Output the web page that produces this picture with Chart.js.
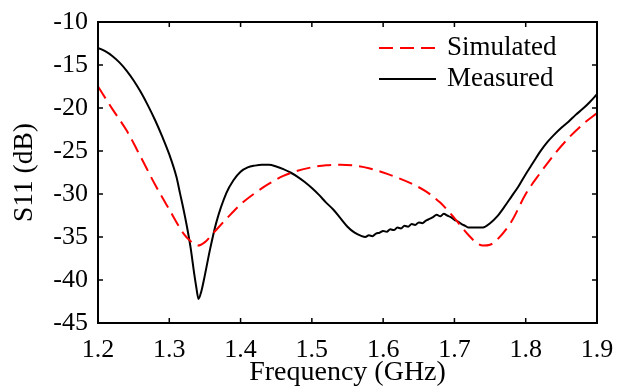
<!DOCTYPE html>
<html>
<head>
<meta charset="utf-8">
<title>S11</title>
<script src="https://cdn.jsdelivr.net/npm/chart.js@4/dist/chart.umd.min.js"></script>
<style>
  html, body { margin: 0; padding: 0; background: #fff; }
  #wrap { width: 621px; height: 392px; position: relative; }
</style>
</head>
<body>
<div id="wrap"><canvas id="chart"></canvas></div>
<script>
"use strict";

// ── Data ──────────────────────────────────────────────────────────────────
const simFreq = [
  1.20, 1.22, 1.24, 1.26, 1.28, 1.30, 1.32, 1.33, 1.34, 1.35, 1.36, 1.38,
  1.40, 1.42, 1.44, 1.46, 1.48, 1.50, 1.52, 1.54, 1.56, 1.58, 1.60, 1.62,
  1.64, 1.66, 1.68, 1.70, 1.72, 1.73, 1.74, 1.75, 1.76, 1.78, 1.80, 1.82,
  1.84, 1.86, 1.88, 1.90,
];
const simS11 = [
  -17.5, -20.1, -22.6, -25.7, -28.9, -31.8, -34.6, -35.5, -36.0, -35.6, -34.7, -32.9,
  -31.2, -29.9, -28.8, -27.9, -27.3, -26.9, -26.65, -26.6, -26.7, -27.0, -27.5, -28.1,
  -28.8, -29.7, -31.0, -32.8, -34.8, -35.6, -36.0, -35.9, -35.3, -33.2, -30.0, -27.6,
  -25.4, -23.5, -21.9, -20.6,
];

const measFreq = [
  1.20, 1.21, 1.22, 1.23, 1.24, 1.25, 1.26, 1.27, 1.28, 1.29, 1.30, 1.31,
  1.315, 1.32, 1.325, 1.33, 1.335, 1.338, 1.341, 1.345, 1.350, 1.357, 1.366, 1.38,
  1.39, 1.40, 1.41, 1.42, 1.43, 1.44, 1.45, 1.46, 1.47, 1.48, 1.49, 1.50,
  1.51, 1.52, 1.53, 1.54, 1.55, 1.56, 1.57, 1.575, 1.58, 1.585, 1.59, 1.595,
  1.60, 1.605, 1.61, 1.615, 1.62, 1.625, 1.63, 1.635, 1.64, 1.645, 1.65, 1.655,
  1.66, 1.665, 1.67, 1.675, 1.68, 1.685, 1.69, 1.695, 1.70, 1.705, 1.71, 1.715,
  1.72, 1.73, 1.74, 1.75, 1.76, 1.77, 1.78, 1.79, 1.80, 1.81, 1.82, 1.83,
  1.84, 1.85, 1.86, 1.87, 1.88, 1.89, 1.90,
];
const measS11 = [
  -13.0, -13.4, -13.95, -14.7, -15.65, -16.8, -18.15, -19.7, -21.4, -23.3, -25.4, -28.0,
  -29.9, -31.8, -33.9, -36.3, -39.3, -40.9, -42.2, -41.3, -39.4, -36.5, -33.3, -29.9,
  -28.4, -27.4, -26.9, -26.7, -26.6, -26.6, -26.8, -27.1, -27.5, -28.0, -28.6, -29.3,
  -30.1, -31.0, -31.8, -32.8, -33.8, -34.5, -34.9, -35.0, -34.8, -34.9, -34.6, -34.5,
  -34.3, -34.4, -34.1, -34.2, -33.9, -34.0, -33.7, -33.8, -33.5, -33.6, -33.3, -33.4,
  -33.1, -32.9, -32.7, -32.4, -32.6, -32.3, -32.5, -32.7, -33.0, -33.2, -33.5, -33.7,
  -33.9, -33.9, -33.9, -33.4, -32.6, -31.5, -30.3, -29.1, -27.7, -26.4, -25.1, -24.0,
  -23.1, -22.3, -21.6, -20.8, -20.1, -19.3, -18.4,
];

const xTicks = [1.2, 1.3, 1.4, 1.5, 1.6, 1.7, 1.8, 1.9];
const yTicks = [-45, -40, -35, -30, -25, -20, -15, -10];

const FONT = "'Liberation Serif', 'Times New Roman', serif";

function toPoints(xs, ys) {
  return xs.map((x, i) => ({ x, y: ys[i] }));
}

// ── Frame, inward ticks and in-plot legend ────────────────────────────────
const framePlugin = {
  id: "frame",
  afterDraw(chart) {
    const { ctx, chartArea: a, scales } = chart;
    const len = 5;
    ctx.save();
    ctx.strokeStyle = "#000";
    ctx.lineWidth = 2;
    ctx.strokeRect(a.left, a.top, a.right - a.left, a.bottom - a.top);
    ctx.lineWidth = 1.5;
    ctx.beginPath();
    for (const v of xTicks) {
      const px = scales.x.getPixelForValue(v);
      ctx.moveTo(px, a.bottom); ctx.lineTo(px, a.bottom - len);
      ctx.moveTo(px, a.top);    ctx.lineTo(px, a.top + len);
    }
    for (const v of yTicks) {
      const py = scales.y.getPixelForValue(v);
      ctx.moveTo(a.left, py);  ctx.lineTo(a.left + len, py);
      ctx.moveTo(a.right, py); ctx.lineTo(a.right - len, py);
    }
    ctx.stroke();

    // legend
    const lx = 379, lw = 57, tx = 447, rowY = [48, 79];
    ctx.font = "27px " + FONT;
    ctx.textBaseline = "middle";
    ctx.fillStyle = "#000";
    chart.data.datasets.forEach((ds, i) => {
      ctx.strokeStyle = ds.borderColor;
      ctx.lineWidth = ds.borderWidth;
      ctx.setLineDash(ds.borderDash || []);
      ctx.beginPath();
      ctx.moveTo(lx, rowY[i]);
      ctx.lineTo(lx + lw, rowY[i]);
      ctx.stroke();
      ctx.setLineDash([]);
      ctx.fillText(ds.label, tx, rowY[i]);
    });
    ctx.restore();
  },
};

// ── Chart ─────────────────────────────────────────────────────────────────
Chart.defaults.font.family = FONT;
Chart.defaults.color = "#000";

new Chart(document.getElementById("chart"), {
  type: "line",
  data: {
    datasets: [
      {
        label: "Simulated",
        data: toPoints(simFreq, simS11),
        borderColor: "#ff0000",
        borderWidth: 2,
        borderDash: [14, 7],
        pointRadius: 0,
        cubicInterpolationMode: "monotone",
      },
      {
        label: "Measured",
        data: toPoints(measFreq, measS11),
        borderColor: "#000000",
        borderWidth: 2,
        pointRadius: 0,
        cubicInterpolationMode: "monotone",
      },
    ],
  },
  options: {
    responsive: true,
    maintainAspectRatio: false,
    animation: false,
    layout: { padding: { left: 0, right: 24, top: 22, bottom: 0 } },
    plugins: {
      legend: { display: false },
      tooltip: { enabled: false },
    },
    scales: {
      x: {
        type: "linear",
        min: 1.2,
        max: 1.9,
        afterBuildTicks: s => { s.ticks = xTicks.map(v => ({ value: v })); },
        afterFit: s => { s.height = 69; s.paddingLeft = 0; s.paddingRight = 0; },
        grid: { display: false, drawTicks: false },
        border: { display: false },
        ticks: {
          padding: 12,
          font: { size: 26 },
          callback: v => v.toFixed(1),
        },
        title: {
          display: true,
          text: "Frequency (GHz)",
          font: { size: 28 },
          padding: { top: 0, bottom: 3 },
        },
      },
      y: {
        min: -45,
        max: -10,
        afterBuildTicks: s => { s.ticks = yTicks.map(v => ({ value: v })); },
        afterFit: s => { s.width = 98; s.paddingTop = 0; s.paddingBottom = 0; },
        grid: { display: false, drawTicks: false },
        border: { display: false },
        ticks: {
          padding: 10,
          font: { size: 26 },
          callback: v => String(v),
        },
        title: {
          display: true,
          text: "S11 (dB)",
          font: { size: 27.5 },
          padding: { top: 8, bottom: 0 },
        },
      },
    },
  },
  plugins: [framePlugin],
});
</script>
</body>
</html>
